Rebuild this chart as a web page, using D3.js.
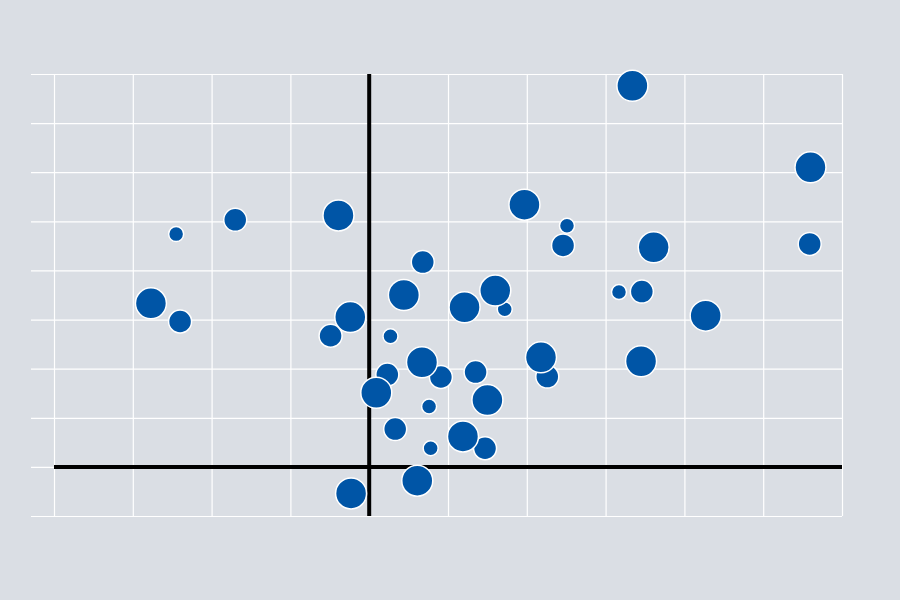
<!DOCTYPE html>
<html>
<head>
<meta charset="utf-8">
<script src="https://cdn.jsdelivr.net/npm/d3@7"></script>
<style>
html,body{margin:0;padding:0;background:#dadee4;}
svg{display:block;}
</style>
</head>
<body>
<svg id="chart" width="900" height="600"></svg>
<script>
// Data (x, y, size class 1=small, 2=medium, 3=large)
const xValues = [3.34, 5.60, 1.97, -0.39, -1.70, -2.45, 2.51, 2.46, 3.61, 5.59,
                 0.68, -2.77, -2.40, 0.44, -0.24, -0.49, 0.27, 1.21, 1.60, 1.72,
                 3.17, 3.46, 4.27, 2.18, 2.26, 3.45, 0.67, 0.91, 1.35, 0.23,
                 0.09, 1.50, 0.76, 0.33, 0.78, 1.19, 1.47, 0.61, -0.23];
const yValues = [7.76, 6.10, 5.34, 5.12, 5.03, 4.74, 4.91, 4.51, 4.47, 4.54,
                 4.17, 3.33, 2.96, 3.50, 3.05, 2.67, 2.66, 3.25, 3.59, 3.21,
                 3.56, 3.57, 3.08, 2.23, 1.84, 2.15, 2.13, 1.83, 1.93, 1.88,
                 1.51, 1.36, 1.23, 0.77, 0.38, 0.62, 0.38, -0.28, -0.54];
const sizes   = [3, 3, 3, 3, 2, 1, 1, 2, 3, 2,
                 2, 3, 2, 3, 3, 2, 1, 3, 3, 1,
                 1, 2, 3, 3, 2, 3, 3, 2, 2, 2,
                 3, 3, 1, 2, 1, 3, 2, 3, 3];
const xTicks = [-4, -3, -2, -1, 0, 1, 2, 3, 4, 5, 6];
const yTicks = [-1, 0, 1, 2, 3, 4, 5, 6, 7, 8];

(function () {
const points = xValues.map((x, i) => ({x, y: yValues[i], z: sizes[i], i}));

const svg = d3.select("#chart");
const mLeft = 54, mRight = 842, mTop = 74, mBottom = 516;

const x = d3.scaleLinear().domain([-4, 6]).range([mLeft, mRight]);
const y = d3.scaleLinear().domain([-1, 8]).range([mBottom, mTop]);
const r = d3.scaleLinear().domain([1, 3]).range([7.5, 15.5]);

svg.append("rect").attr("width", 900).attr("height", 600).attr("fill", "#dadee4");

// Vertical grid lines
const xAxis = d3.axisBottom(x).tickValues(xTicks).tickSize(-(mBottom - mTop)).tickFormat("");
const gx = svg.append("g").attr("transform", `translate(0,${mBottom})`).call(xAxis);
gx.select(".domain").remove();
gx.selectAll(".tick line").attr("stroke", "#ffffff").attr("stroke-width", 1.2);

// Horizontal grid lines (extend to the left as ticks)
const yAxis = d3.axisLeft(y).tickValues(yTicks).tickSize(-(mRight - mLeft)).tickFormat("");
const gy = svg.append("g").attr("transform", `translate(${mLeft},0)`).call(yAxis);
gy.select(".domain").remove();
gy.selectAll(".tick line").attr("x1", -23).attr("stroke", "#ffffff").attr("stroke-width", 1.2);

// Zero lines
svg.append("line")
  .attr("x1", x(-4)).attr("x2", x(6))
  .attr("y1", y(0)).attr("y2", y(0))
  .attr("stroke", "#000").attr("stroke-width", 4);
svg.append("line")
  .attr("x1", x(0)).attr("x2", x(0))
  .attr("y1", y(8)).attr("y2", y(-1))
  .attr("stroke", "#000").attr("stroke-width", 4);

// Bubbles: smaller first, larger on top
const sorted = points.slice().sort((a, b) => a.z - b.z || a.i - b.i);
svg.append("g").selectAll("circle")
  .data(sorted)
  .join("circle")
  .attr("cx", d => x(d.x))
  .attr("cy", d => y(d.y))
  .attr("r", d => r(d.z))
  .attr("fill", "#0055a6")
  .attr("stroke", "#ffffff")
  .attr("stroke-width", 1.5);
})();
</script>
</body>
</html>
